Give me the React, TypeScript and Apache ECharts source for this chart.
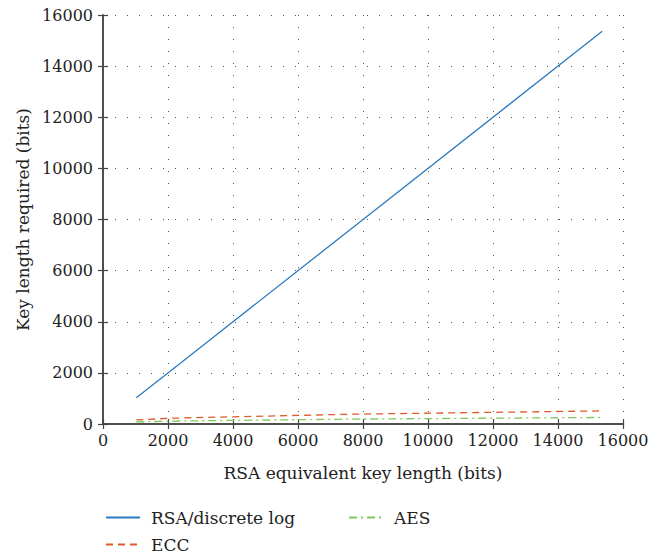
import React, { useEffect, useRef } from "react";
import * as echarts from "echarts";

const rsaX = [1024, 2048, 3072, 7680, 15360];
const rsaY = [1024, 2048, 3072, 7680, 15360];
const eccY = [160, 224, 256, 384, 512];
const aesY = [80, 112, 128, 192, 256];
const xName = "RSA equivalent key length (bits)";
const yName = "Key length required (bits)";

const FONT = "DejaVu Serif";

export default function App() {
  const ref = useRef<HTMLDivElement>(null);
  useEffect(() => {
    const chart = echarts.init(ref.current!, undefined, { renderer: "svg" });
    const pairs = (ys: number[]) => rsaX.map((x, i) => [x, ys[i]]);
    const axisLine = { show: true, lineStyle: { color: "#444", width: 1.5 } };
    const tick = { show: true, inside: true, length: 5, lineStyle: { color: "#444", width: 1.2 } };
    const split = { show: true, lineStyle: { color: "#555", type: [1, 11] as any, width: 1 } };
    const fmt = (v: number) => String(v);
    const legendText = { fontFamily: FONT, fontSize: 17, color: "#222", padding: [0, 0, 0, 6] };
    chart.setOption({
      animation: false,
      textStyle: { fontFamily: FONT },
      grid: { left: 103, right: 38, top: 15, bottom: 132, containLabel: false },
      legend: [
        {
          left: 100,
          top: 504,
          orient: "horizontal",
          itemWidth: 34,
          itemHeight: 12,
          itemGap: 53,
          itemStyle: { opacity: 0 },
          data: ["RSA/discrete log", "AES"],
          textStyle: legendText,
        },
        {
          left: 100,
          top: 531,
          orient: "horizontal",
          itemWidth: 34,
          itemHeight: 12,
          itemStyle: { opacity: 0 },
          data: ["ECC"],
          textStyle: legendText,
        },
      ],
      xAxis: [
        {
          type: "value",
          min: 0,
          max: 16000,
          interval: 2000,
          name: xName,
          nameLocation: "middle",
          nameGap: 40,
          nameTextStyle: { fontFamily: FONT, fontSize: 17, color: "#222" },
          axisLine,
          axisTick: tick,
          splitLine: split,
          axisLabel: { fontFamily: FONT, fontSize: 16, color: "#222", margin: 8, formatter: fmt },
        },
        {
          type: "value",
          position: "top",
          min: 0,
          max: 16000,
          interval: 2000,
          axisLine,
          axisTick: tick,
          splitLine: { show: false },
          axisLabel: { show: false },
        },
      ],
      yAxis: [
        {
          type: "value",
          min: 0,
          max: 16000,
          interval: 2000,
          name: yName,
          nameLocation: "middle",
          nameGap: 72,
          nameTextStyle: { fontFamily: FONT, fontSize: 17, color: "#222" },
          axisLine,
          axisTick: tick,
          splitLine: split,
          axisLabel: { fontFamily: FONT, fontSize: 16, color: "#222", margin: 10, formatter: fmt },
        },
        {
          type: "value",
          position: "right",
          min: 0,
          max: 16000,
          interval: 2000,
          axisLine,
          axisTick: tick,
          splitLine: { show: false },
          axisLabel: { show: false },
        },
      ],
      series: [
        {
          name: "RSA/discrete log",
          type: "line",
          data: pairs(rsaY),
          symbol: "none",
          lineStyle: { color: "#2b7bc0", width: 1.3 },
          itemStyle: { color: "#2b7bc0" },
        },
        {
          name: "ECC",
          type: "line",
          data: pairs(eccY),
          symbol: "none",
          lineStyle: { color: "#dd5a2b", width: 1.3, type: [7, 5] },
          itemStyle: { color: "#dd5a2b" },
        },
        {
          name: "AES",
          type: "line",
          data: pairs(aesY),
          symbol: "none",
          lineStyle: { color: "#7fc95a", width: 1.3, type: [8, 4, 2, 4] },
          itemStyle: { color: "#7fc95a" },
        },
      ],
    });
    return () => chart.dispose();
  }, []);
  return (
    <div
      ref={ref}
      style={{ position: "absolute", left: 0, top: 0, width: 661, height: 556 }}
    />
  );
}
